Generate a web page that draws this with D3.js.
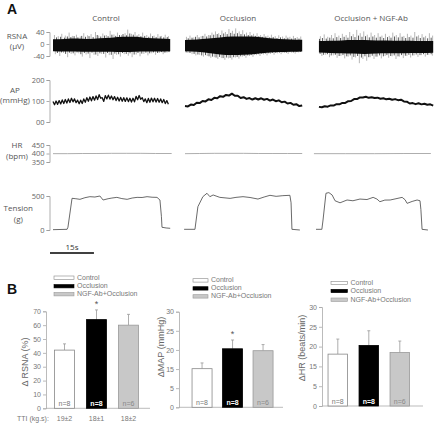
<!DOCTYPE html>
<html><head><meta charset="utf-8">
<script src="https://cdn.jsdelivr.net/npm/d3@7"></script>
<style>body{margin:0;background:#fff}svg{display:block}</style>
</head><body><svg id="c" width="436" height="425"></svg>
<script>
// ---------------- DATA ----------------
const columns = ["Control", "Occlusion", "Occlusion + NGF-Ab"];
// RSNA (µV): core band envelope at 11 evenly spaced times, and spikes [t(s), µV]
const rsnaCoreTopControl = [16,17,18,17,19,21,24,24,20,18,17];
const rsnaCoreBotControl = [-24,-25,-25,-26,-26,-26,-27,-26,-25,-25,-24];
const rsnaCoreTopOcclusion = [13,15,18,22,25,25,24,20,17,15,14];
const rsnaCoreBotOcclusion = [-24,-26,-30,-35,-37,-36,-33,-29,-27,-26,-25];
const rsnaCoreTopNgf = [10,11,12,13,13,12,12,11,11,10,10];
const rsnaCoreBotNgf = [-28,-30,-31,-32,-33,-32,-31,-31,-30,-30,-29];
const rsnaSpikesControl = [[0.5,30],[1.8,26],[3,34],[4.2,28],[5.5,38],[6.6,27],[8,31],[9.3,25],[10.5,36],[11.8,29],[13,33],[14.5,40],[15.6,28],[17,35],[18.2,30],[19.5,44],[20.8,32],[22,38],[23.4,30],[24.6,36],[25.5,48],[26.8,34],[28,40],[29.3,33],[30.6,38],[32,30],[33.3,35],[34.5,28],[35.8,33],[37,27],[38.3,31],[39.4,26],
  [0.8,-34],[2.3,-40],[3.6,-30],[5,-44],[6.2,-33],[7.5,-38],[8.8,-31],[10,-42],[11.3,-35],[12.6,-47],[14,-36],[15.3,-40],[16.6,-33],[18,-45],[19.2,-37],[20.5,-50],[21.7,-36],[23,-42],[24.3,-34],[25.7,-39],[27,-44],[28.4,-35],[29.7,-41],[31,-33],[32.4,-38],[33.7,-31],[35,-36],[36.3,-30],[37.6,-34],[38.9,-29]];
const rsnaMinorControl = [[1.2,22],[2.6,24],[3.9,21],[4.9,25],[6.1,23],[7.2,26],[8.5,22],[9.8,27],[11.1,24],[12.3,26],[13.7,23],[15.1,30],[16.3,25],[17.6,28],[18.8,26],[20.1,31],[21.4,27],[22.7,30],[23.9,33],[25.1,29],[26.2,35],[27.4,31],[28.7,28],[30,26],[31.3,27],[32.7,24],[34,26],[35.2,23],[36.6,25],[37.8,22],[39,23],
  [1.5,-30],[2.9,-28],[4.3,-33],[5.6,-29],[6.9,-31],[8.2,-28],[9.5,-34],[10.7,-30],[12,-32],[13.3,-29],[14.6,-35],[16,-31],[17.3,-33],[18.6,-30],[19.9,-36],[21.1,-32],[22.4,-34],[23.7,-30],[25,-33],[26.3,-31],[27.7,-35],[29,-30],[30.3,-32],[31.7,-29],[33,-31],[34.3,-28],[35.7,-30],[37,-27],[38.2,-29],[39.6,-27]];
const rsnaSpikesOcclusion = [[0.5,24],[1.7,28],[3,22],[4.2,30],[5.5,26],[6.8,34],[8,30],[9.2,38],[10.4,42],[11.5,36],[12.6,45],[13.8,40],[15,50],[16.2,44],[17.3,52],[18.5,42],[19.7,46],[21,38],[22.2,40],[23.4,34],[24.6,36],[25.8,30],[27,33],[28.3,28],[29.5,31],[30.8,26],[32,29],[33.3,25],[34.5,28],[35.8,24],[37,27],[38.3,23],[39.5,25],
  [1,-30],[2.4,-34],[3.7,-38],[5,-36],[6.3,-42],[7.6,-40],[8.8,-46],[10,-44],[11.2,-50],[12.4,-47],[13.6,-53],[14.8,-48],[16,-52],[17.2,-45],[18.4,-49],[19.6,-42],[20.8,-46],[22,-40],[23.2,-43],[24.4,-37],[25.6,-40],[26.8,-35],[28,-38],[29.2,-33],[30.4,-36],[31.6,-31],[32.8,-34],[34,-30],[35.2,-33],[36.4,-29],[37.6,-32],[38.8,-28]];
const rsnaMinorOcclusion = [[1.1,19],[2.4,21],[3.6,24],[4.8,22],[6.1,27],[7.4,25],[8.6,29],[9.8,31],[11,33],[12.1,30],[13.2,35],[14.4,33],[15.6,37],[16.8,34],[17.9,36],[19.1,33],[20.3,32],[21.6,30],[22.8,29],[24,27],[25.2,26],[26.4,24],[27.6,25],[28.9,22],[30.1,23],[31.4,20],[32.6,22],[33.9,19],[35.1,21],[36.4,18],[37.6,20],[38.9,18],
  [0.4,-28],[1.7,-30],[3.1,-33],[4.4,-35],[5.7,-38],[7,-37],[8.2,-41],[9.4,-42],[10.6,-45],[11.8,-43],[13,-47],[14.2,-45],[15.4,-46],[16.6,-44],[17.8,-43],[19,-41],[20.2,-40],[21.4,-38],[22.6,-37],[23.8,-35],[25,-34],[26.2,-33],[27.4,-32],[28.6,-31],[29.8,-30],[31,-30],[32.2,-29],[33.4,-28],[34.6,-29],[35.8,-27],[37,-28],[38.2,-27],[39.4,-26]];
const rsnaSpikesNgf = [[1.5,26],[2.8,32],[4,24],[5.3,30],[6.5,36],[7.8,28],[9,34],[10.3,30],[11.5,40],[12.7,33],[13.9,47],[15.1,36],[16.3,42],[17.5,31],[18.8,38],[20,30],[21.2,36],[22.5,28],[23.7,34],[25,27],[26.2,38],[27.4,30],[28.7,36],[30,27],[31.2,34],[32.4,28],[33.7,40],[35,29],[36.2,33],[37.4,27],[38.7,36],[39.8,28],
  [2,-40],[3.3,-36],[4.6,-44],[5.9,-38],[7.2,-46],[8.5,-40],[9.8,-48],[11,-42],[12.3,-52],[13.5,-45],[14.8,-64],[16,-50],[17.3,-56],[18.5,-44],[19.8,-50],[21,-42],[22.3,-48],[23.6,-40],[24.8,-46],[26,-41],[27.3,-50],[28.5,-42],[29.8,-47],[31,-40],[32.3,-45],[33.5,-38],[34.8,-43],[36,-37],[37.3,-42],[38.5,-36],[39.7,-39]];
const rsnaMinorNgf = [[1.2,17],[2.2,20],[3.5,18],[4.7,21],[5.9,19],[7.1,23],[8.4,20],[9.6,24],[10.9,21],[12.1,26],[13.3,23],[14.5,28],[15.7,24],[16.9,26],[18.2,22],[19.4,25],[20.6,21],[21.9,24],[23.1,20],[24.4,23],[25.6,21],[26.8,25],[28.1,22],[29.4,24],[30.6,20],[31.8,23],[33.1,21],[34.4,25],[35.6,20],[36.8,22],[38.1,19],[39.3,21],
  [1.4,-33],[2.6,-36],[3.9,-34],[5.2,-38],[6.6,-36],[7.9,-40],[9.2,-37],[10.5,-41],[11.7,-38],[12.9,-43],[14.2,-40],[15.5,-45],[16.7,-41],[18,-44],[19.2,-39],[20.5,-42],[21.7,-38],[23,-41],[24.2,-37],[25.5,-40],[26.7,-38],[28,-41],[29.2,-37],[30.5,-39],[31.7,-36],[33,-38],[34.2,-35],[35.5,-37],[36.7,-34],[38,-36],[39.3,-34]];
// AP (mmHg)
const apControl = [98,82,100,84,102,86,105,88,107,90,110,93,113,96,110,92,104,87,104,88,110,94,116,99,119,101,121,104,124,107,130,113,116,98,126,110,128,109,124,106,121,102,118,100,117,99,116,98,115,97,113,95,113,96,122,106,126,108,116,97,110,92,112,94,114,96,113,95,112,94,110,92,107,88,102,84];
const apOcclusion = [76,74,83,81,92,90,100,98,108,105,115,113,123,120,129,126,135,125,125,114,118,110,114,107,113,107,113,106,110,102,107,99,103,94,97,88,91,82,85,76,79];
const apNgf = [72,70,75,73,79,78,85,84,91,91,99,100,109,109,117,117,120,115,118,114,116,111,113,108,111,106,109,104,106,98,97,88,90,85,89,84,87,82,84,78];
// HR (bpm) [t, bpm]
const hrControl = [[0,399],[5,399],[10,400],[15,400],[20,401],[25,401],[30,401],[35,400],[40.5,400]];
const hrOcclusion = [[0,399],[5,400],[10,401],[15,401],[20,401],[25,400],[30,400],[35,400],[40,400]];
const hrNgf = [[-0.7,399],[10,399],[20,399],[30,400],[39.2,400]];
// Tension (g) [t, g]
const tenControl = [[0,5],[4.8,10],[5.1,40],[6.5,466],[7.8,460],[9.2,451],[10.9,475],[12.6,490],[14.3,485],[16,500],[17.1,441],[18.8,460],[20.1,470],[21.8,480],[23.5,462],[25.3,451],[27,470],[28.7,480],[30.4,478],[32.1,490],[33.8,482],[35.5,480],[36.5,441],[37,200],[37.2,40],[38.6,30],[40,25]];
const tenOcclusion = [[-0.3,10],[3.4,10],[4.4,343],[6.1,490],[7.5,540],[8.5,490],[9.6,515],[10.9,495],[11.9,480],[15.4,465],[17.4,480],[19.8,490],[22.2,478],[24.9,455],[27,485],[29,510],[31.1,495],[33.4,505],[35.8,510],[36.2,400],[36.5,10],[39.2,0]];
const tenNgf = [[0,10],[2,10],[2.4,147],[3.4,540],[4.4,550],[5.5,515],[6.5,430],[8.2,400],[10.6,441],[12.6,430],[15,455],[17.4,448],[19.5,480],[20.8,455],[21.8,416],[23.5,440],[25.3,441],[27.3,460],[29.4,480],[30.4,445],[31.1,392],[32.8,420],[34.5,441],[35.5,430],[35.8,300],[36.2,10],[38.2,0]];
const rsnaTicks = [-40, 0, 40], rsnaTickLabels = ["-40", "0", "40"];
const apTicks = [0, 100, 200], apTickLabels = ["00", "100", "200"];
const hrTicks = [350, 400, 450], hrTickLabels = ["350", "400", "450"];
const tenTicks = [0, 500], tenTickLabels = ["0", "500"];

// Panel B
const groups = ["Control", "Occlusion", "NGF-Ab+Occlusion"];
const nLabels = ["n=8", "n=8", "n=6"];
const rsnaMean = [42, 64, 60], rsnaSem = [4.5, 7, 7.8];
const mapMean = [15.1, 20.3, 19.8], mapSem = [1.5, 2.3, 1.6];
const hrMean = [18.1, 20.3, 18.5], hrSem = [3.8, 3.7, 2.9];
const ttiLabels = ["19±2", "18±1", "18±2"];
const rsnaBarTicks = [0,10,20,30,40,50,60,70];
const mapBarTicks = [0,5,15,20,25,30];   // as printed on the original axis
const hrBarTicks = [0,5,15,20,25,30];
const stars = [false, true, false];

// ---------------- DRAW ----------------
const svg = d3.select("#c");
const fA = "'Open Sans', sans-serif";
const fB = "'Liberation Sans', Arial, sans-serif";
const txtA = "#555";

svg.append("text").attr("x", 7).attr("y", 14).attr("font-family", fB).attr("font-weight", "bold")
  .attr("font-size", 14).attr("fill", "#111").text("A");
svg.append("text").attr("x", 7).attr("y", 294).attr("font-family", fB).attr("font-weight", "bold")
  .attr("font-size", 14).attr("fill", "#111").text("B");

const colX0 = [53, 185, 316];
const colScale = colX0.map(x0 => d3.scaleLinear().domain([0, 40]).range([x0, x0 + 117.2]));
const titleX = [106, 238, 371];
columns.forEach((c, i) => svg.append("text").attr("x", titleX[i]).attr("y", 21)
  .attr("text-anchor", "middle").attr("font-family", fA).attr("font-size", 8).attr("fill", txtA).text(c));

const yRsna = d3.scaleLinear().domain([-40, 40]).range([56, 32]);
const yAp = d3.scaleLinear().domain([0, 200]).range([122, 80]);
const yHr = d3.scaleLinear().domain([350, 450]).range([162, 145]);
const yTen = d3.scaleLinear().domain([0, 500]).range([230, 196]);

function rowAxis(y, ticks, labels) {
  const g = svg.append("g").attr("transform", "translate(49.5,0)")
    .call(d3.axisLeft(y).tickValues(ticks).tickSize(3).tickPadding(2)
      .tickFormat((d, i) => labels[i]));
  g.select(".domain").attr("stroke", "#999").attr("stroke-width", 0.8);
  g.selectAll(".tick line").attr("stroke", "#999").attr("stroke-width", 0.8);
  g.selectAll("text").attr("font-family", fA).attr("font-size", 7.5).attr("fill", "#666");
}
rowAxis(yRsna, rsnaTicks, rsnaTickLabels);
rowAxis(yAp, apTicks, apTickLabels);
rowAxis(yHr, hrTicks, hrTickLabels);
rowAxis(yTen, tenTicks, tenTickLabels);

function rowLabel(lines, x, ys) {
  lines.forEach((l, i) => svg.append("text").attr("x", x).attr("y", ys[i]).attr("text-anchor", "middle")
    .attr("font-family", fA).attr("font-size", 8).attr("fill", txtA).text(l));
}
rowLabel(["RSNA", "(μV)"], 17, [38.5, 48.5]);
rowLabel(["AP", "(mmHg)"], 15, [92.5, 102.5]);
rowLabel(["HR", "(bpm)"], 17, [148.3, 158.8]);
rowLabel(["Tension", "(g)"], 18.3, [211, 221.5]);

// RSNA traces
const rsnaCores = [[rsnaCoreTopControl, rsnaCoreBotControl, 0], [rsnaCoreTopOcclusion, rsnaCoreBotOcclusion, 0], [rsnaCoreTopNgf, rsnaCoreBotNgf, 1]];
const rsnaSpikes = [rsnaSpikesControl, rsnaSpikesOcclusion, rsnaSpikesNgf];
const rsnaMinor = [rsnaMinorControl, rsnaMinorOcclusion, rsnaMinorNgf];
rsnaCores.forEach(([top, bot, t0], ci) => {
  const x = colScale[ci];
  const n = top.length;
  const tt = top.map((_, i) => t0 + i * (40 - t0) / (n - 1));
  svg.append("g").selectAll("line").data(rsnaSpikes[ci]).join("line")
    .attr("x1", d => x(d[0])).attr("x2", d => x(d[0]))
    .attr("y1", yRsna(0)).attr("y2", d => yRsna(d[1]))
    .attr("stroke", "#555").attr("stroke-width", 0.5).attr("stroke-opacity", 0.85);
  svg.append("g").selectAll("line").data(rsnaMinor[ci]).join("line")
    .attr("x1", d => x(d[0])).attr("x2", d => x(d[0]))
    .attr("y1", yRsna(0)).attr("y2", d => yRsna(d[1]))
    .attr("stroke", "#111").attr("stroke-width", 0.7);
  const area = d3.area().x((d, i) => x(tt[i])).y0((d, i) => yRsna(bot[i])).y1(d => yRsna(d)).curve(d3.curveMonotoneX);
  svg.append("path").attr("d", area(top)).attr("fill", "#0a0a0a");
});

// AP traces
const apSets = [[apControl, 0, 0.525, 1.3], [apOcclusion, 0, 1, 2], [apNgf, 1, 1, 2]];
apSets.forEach(([vals, t0, dt, sw], ci) => {
  const x = colScale[ci];
  const line = d3.line().x((d, i) => x(t0 + i * dt)).y(d => yAp(d));
  svg.append("path").attr("d", line(vals)).attr("fill", "none").attr("stroke", "#111")
    .attr("stroke-width", sw).attr("stroke-linejoin", "round");
});

// HR traces
[hrControl, hrOcclusion, hrNgf].forEach((vals, ci) => {
  const x = colScale[ci];
  const line = d3.line().x(d => x(d[0])).y(d => yHr(d[1]));
  svg.append("path").attr("d", line(vals)).attr("fill", "none").attr("stroke", "#999")
    .attr("stroke-width", 0.8);
});

// Tension traces
[tenControl, tenOcclusion, tenNgf].forEach((vals, ci) => {
  const x = colScale[ci];
  const line = d3.line().x(d => x(d[0])).y(d => yTen(d[1]));
  svg.append("path").attr("d", line(vals)).attr("fill", "none").attr("stroke", "#444")
    .attr("stroke-width", 0.8);
});

// scale bar 15 s
const xs = colScale[0];
svg.append("line").attr("x1", xs(0) - 3).attr("x2", xs(15) - 3).attr("y1", 253).attr("y2", 253)
  .attr("stroke", "#000").attr("stroke-width", 1.6);
svg.append("text").attr("x", (xs(0) + xs(15)) / 2 - 3).attr("y", 250).attr("text-anchor", "middle")
  .attr("font-family", fA).attr("font-size", 8).attr("fill", "#333").text("15s");

// ---------------- Panel B ----------------
const fills = ["#fff", "#000", "#c8c8c8"];
const strokes = ["#888", "#000", "#999"];
const nFill = ["#777", "#fff", "#888"];

function barChart(cfg) {
  const y = d3.scaleLinear().domain(cfg.domain).range(cfg.range);
  const x = d3.scaleBand().domain(groups).range(cfg.xr).paddingInner(cfg.pi).paddingOuter(cfg.pi / 2);
  const g = svg.append("g");
  const ax = g.append("g").attr("transform", `translate(${cfg.axisX},0)`)
    .call(d3.axisLeft(y).tickValues(cfg.ticks).tickSize(3).tickPadding(2).tickFormat(d3.format("d")));
  ax.select(".domain").attr("stroke", "#aaa").attr("stroke-width", 0.8);
  ax.selectAll(".tick line").attr("stroke", "#aaa").attr("stroke-width", 0.8);
  ax.selectAll("text").attr("font-family", fB).attr("font-size", 7).attr("fill", "#777");
  g.append("line").attr("x1", cfg.axisX).attr("x2", cfg.baseEnd).attr("y1", y(0)).attr("y2", y(0))
    .attr("stroke", "#aaa").attr("stroke-width", 0.8);
  groups.forEach((k, i) => {
    const cx = x(k) + x.bandwidth() / 2;
    g.append("line").attr("x1", cx).attr("x2", cx).attr("y1", y(cfg.mean[i])).attr("y2", y(cfg.mean[i] + cfg.sem[i]))
      .attr("stroke", "#999").attr("stroke-width", 0.8);
    g.append("line").attr("x1", cx - 1.5).attr("x2", cx + 1.5).attr("y1", y(cfg.mean[i] + cfg.sem[i])).attr("y2", y(cfg.mean[i] + cfg.sem[i]))
      .attr("stroke", "#999").attr("stroke-width", 0.8);
  });
  g.selectAll("rect.bar").data(groups).join("rect").attr("class", "bar")
    .attr("x", d => x(d)).attr("width", x.bandwidth())
    .attr("y", (d, i) => y(cfg.mean[i])).attr("height", (d, i) => y(0) - y(cfg.mean[i]))
    .attr("fill", (d, i) => fills[i]).attr("stroke", (d, i) => strokes[i]).attr("stroke-width", 0.8);
  groups.forEach((k, i) => {
    g.append("text").attr("x", x(k) + x.bandwidth() / 2).attr("y", y(0) - 2).attr("text-anchor", "middle")
      .attr("font-family", fB).attr("font-size", 7).attr("fill", nFill[i])
      .attr("font-weight", i === 1 ? "bold" : "normal").text(nLabels[i]);
    if (cfg.stars && stars[i]) {
      g.append("text").attr("x", x(k) + x.bandwidth() / 2).attr("y", y(cfg.mean[i] + cfg.sem[i]) - 3)
        .attr("text-anchor", "middle").attr("font-family", fB).attr("font-size", 9).attr("fill", "#555").text("*");
    }
  });
  g.append("text").attr("transform", `translate(${cfg.labX},${cfg.labY}) rotate(-90)`).attr("text-anchor", "middle")
    .attr("font-family", fB).attr("font-size", 9).attr("fill", "#666").text(cfg.label);
  groups.forEach((k, i) => {
    g.append("rect").attr("x", cfg.legX).attr("y", cfg.legY[i]).attr("width", cfg.legW).attr("height", 3.4)
      .attr("fill", fills[i]).attr("stroke", strokes[i]).attr("stroke-width", 0.6);
    g.append("text").attr("x", cfg.legX + cfg.legW + 3).attr("y", cfg.legY[i] + 3.6)
      .attr("font-family", fB).attr("font-size", 7).attr("fill", "#777").text(k);
  });
  if (cfg.tti) {
    groups.forEach((k, i) => g.append("text").attr("x", x(k) + x.bandwidth() / 2).attr("y", 420.5)
      .attr("text-anchor", "middle").attr("font-family", fB).attr("font-size", 7).attr("fill", "#777").text(ttiLabels[i]));
    g.append("text").attr("x", 17).attr("y", 420.5).attr("font-family", fB).attr("font-size", 7)
      .attr("fill", "#777").text("TTI (kg.s):");
  }
}

barChart({ domain: [0, 70], range: [408.3, 311.3], ticks: rsnaBarTicks, axisX: 46, xr: [48.5, 144.5], pi: 0.375,
  baseEnd: 150, mean: rsnaMean, sem: rsnaSem, stars: true, label: "Δ RSNA (%)", labX: 28, labY: 362,
  legX: 54, legW: 20, legY: [276, 284.5, 292.5], tti: true });
barChart({ domain: mapBarTicks, range: mapBarTicks.map((d, i) => 407.3 - i * (407.3 - 311.7) / 5), ticks: mapBarTicks,
  axisX: 179, xr: [186.8, 278.3], pi: 0.344, baseEnd: 283, mean: mapMean, sem: mapSem, stars: true,
  label: "ΔMAP (mmHg)", labX: 163.5, labY: 347, legX: 193, legW: 15, legY: [278.7, 286.7, 294.7] });
barChart({ domain: hrBarTicks, range: hrBarTicks.map((d, i) => 406 - i * (406 - 307) / 5), ticks: hrBarTicks,
  axisX: 322, xr: [322.3, 415.3], pi: 0.37, baseEnd: 423, mean: hrMean, sem: hrSem, stars: false,
  label: "ΔHR (beats/min)", labX: 305, labY: 348, legX: 331, legW: 16.5, legY: [281.3, 289.3, 298] });
</script></body></html>
